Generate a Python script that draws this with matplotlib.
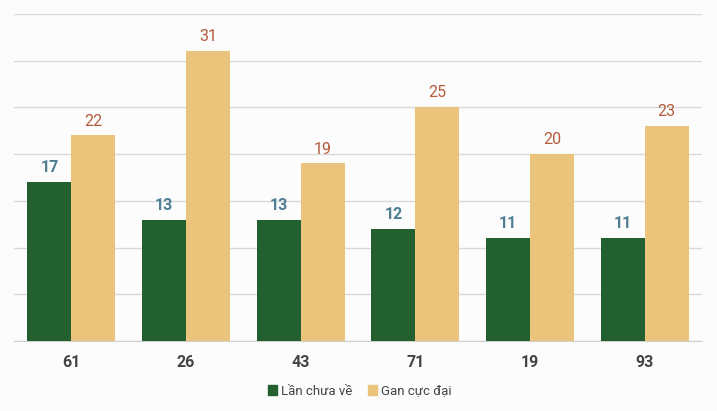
import matplotlib
matplotlib.use("Agg")
import matplotlib.pyplot as plt
import numpy as np
from matplotlib.patches import Patch

categories = ["61", "26", "43", "71", "19", "93"]
lan_chua_ve = [17, 13, 13, 12, 11, 11]
gan_cuc_dai = [22, 31, 19, 25, 20, 23]
series_names = ["Lần chưa về", "Gan cực đại"]
yticks = [0, 5, 10, 15, 20, 25, 30, 35]

plt.rcParams['font.family'] = ['Roboto', 'DejaVu Sans']

green = "#23602f"
gold = "#e9c47a"
bg = "#fcfcfc"

fig = plt.figure(figsize=(7.17, 4.11), dpi=100, facecolor=bg)
ax = fig.add_axes([14/717, 1-341/411, (702-14)/717, (341-14)/411], facecolor=bg)

x = np.arange(len(categories))
w = 0.384
ax.bar(x - w/2, lan_chua_ve, w, color=green, zorder=3)
ax.bar(x + w/2, gan_cuc_dai, w, color=gold, zorder=3)

for xi, v in zip(x, lan_chua_ve):
    ax.annotate(str(v), (xi - w/2, v), xytext=(0, 5), textcoords="offset points",
                ha="center", va="bottom", fontsize=11.5, fontweight="bold", color="#4f7d94")
for xi, v in zip(x, gan_cuc_dai):
    ax.annotate(str(v), (xi + w/2, v), xytext=(0, 5), textcoords="offset points",
                ha="center", va="bottom", fontsize=11.5, color="#b35a3c")

ax.set_xlim(-0.5, len(categories) - 0.5)
ax.set_ylim(0, 35)
ax.set_yticks(yticks)
ax.yaxis.grid(True, color="#d9d9d9", linewidth=1, zorder=0)
ax.tick_params(axis='y', left=False, labelleft=False)
ax.set_xticks(x)
ax.set_xticklabels(categories, fontsize=11.5, fontweight="bold", color="#444444")
ax.tick_params(axis='x', length=0, pad=10)
for s in ["top", "right", "left"]:
    ax.spines[s].set_visible(False)
ax.spines["bottom"].set_color("#d0d0d0")

handles = [Patch(color=green), Patch(color=gold)]
fig.legend(handles, series_names, loc="center", bbox_to_anchor=(360/717, 1-391/411),
           ncol=2, frameon=False, fontsize=9.5, handlelength=0.7, handleheight=0.7,
           handletextpad=0.3, columnspacing=1.2, labelcolor="#444444")

fig.savefig("out.png", dpi=100, facecolor=bg)
